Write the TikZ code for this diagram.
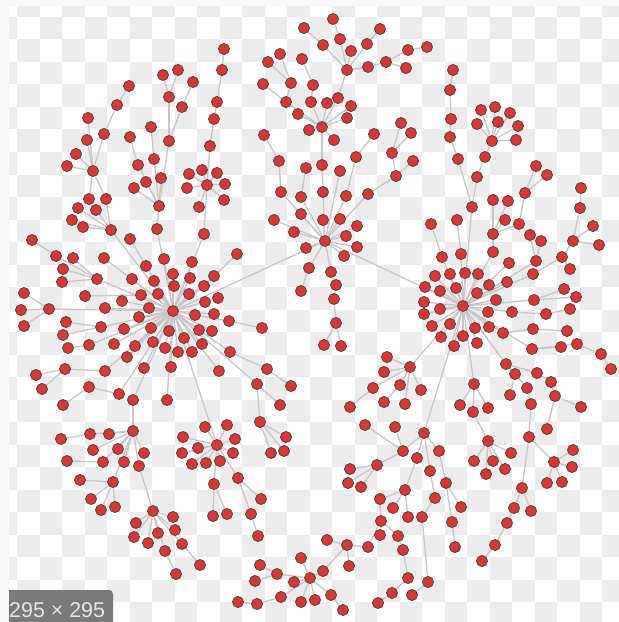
\documentclass[tikz,border=0pt]{standalone}
\usepackage{fontspec}
\setmainfont{Liberation Sans}
\usetikzlibrary{backgrounds}
\definecolor{stripbg}{HTML}{F6F8FA}
\definecolor{checkgray}{HTML}{ECECEC}
\definecolor{dotred}{HTML}{E3332F}
\definecolor{dotline}{HTML}{5A4646}
\definecolor{edgegray}{HTML}{C6C6C6}
\definecolor{labelbg}{HTML}{737373}
\definecolor{labeltext}{HTML}{E6E6E6}
\tikzset{
  dot/.style={circle,fill=dotred,draw=dotline,line width=0.9bp,minimum size=11bp,inner sep=0pt},
  edge/.style={draw=edgegray,line width=1.3bp},
}
\def\graphdata{173/311/325/241,325/241/325/241,463/306/325/241,
129/86/117/105,117/105/104/134,104/134/93/171,93/171/106/199,88/118/93/171,76/154/93/171,67/166/93/171,87/140/93/171,89/199/93/171,106/199/111/230,111/230/173/311,78/208/111/230,96/210/111/230,72/220/111/230,83/227/111/230,
163/75/169/97,178/70/169/97,169/97/169/141,193/82/182/107,182/107/169/141,169/141/159/206,151/127/154/159,130/137/138/165,154/159/159/206,138/165/159/206,161/178/159/206,134/188/159/206,146/182/159/206,159/206/157/229,157/229/173/311,
207/185/204/234,189/174/207/185,202/170/207/185,217/173/207/185,187/188/207/185,225/184/207/185,224/200/207/185,199/207/207/185,224/49/222/70,222/70/217/102,217/102/214/119,214/119/210/146,210/146/207/185,204/234/173/311,
130/239/173/311,32/240/56/256,56/256/97/279,73/258/97/279,97/279/173/311,104/258/173/311,63/269/97/279,62/282/97/279,146/266/173/311,164/259/173/311,192/262/173/311,173/274/173/311,190/278/173/311,132/279/173/311,154/281/173/311,174/286/173/311,204/286/173/311,
24/293/49/309,21/310/49/309,24/326/49/309,49/309/173/311,85/296/141/295,141/295/173/311,158/294/173/311,189/294/173/311,205/302/173/311,105/308/173/311,122/301/173/311,149/308/173/311,195/315/173/311,139/317/173/311,
66/322/101/327,63/335/101/327,101/327/173/311,124/329/173/311,151/328/173/311,169/331/173/311,199/330/173/311,68/348/89/345,89/345/173/311,114/344/173/311,135/346/173/311,153/342/173/311,165/348/173/311,178/352/173/311,184/338/173/311,192/352/173/311,202/344/173/311,
127/357/173/311,144/368/173/311,171/367/173/311,65/369/105/371,36/375/65/369,42/389/65/369,105/371/173/311,89/387/119/394,119/394/173/311,133/400/173/311,167/400/173/311,63/405/89/387,
214/276/173/311,218/298/173/311,214/314/173/311,229/321/173/311,262/328/229/321,212/331/173/311,230/352/173/311,267/369/230/352,291/386/267/369,257/384/173/311,280/405/257/384,219/371/173/311,237/254/214/276,
133/431/133/400,90/434/133/431,61/439/90/434,109/434/133/431,93/450/133/431,118/449/133/431,144/453/133/431,103/462/133/431,67/461/103/462,124/462/133/431,139/466/133/431,113/482/133/431,80/480/113/482,91/499/113/482,101/510/113/482,115/507/113/482,
153/511/139/466,173/517/153/511,136/523/153/511,158/533/153/511,175/530/153/511,134/537/153/511,148/543/153/511,182/544/153/511,165/551/153/511,200/565/182/544,176/574/165/551,
217/445/173/311,183/437/217/445,205/427/217/445,198/448/217/445,182/453/217/445,192/464/217/445,206/463/217/445,227/425/217/445,235/439/217/445,233/453/217/445,220/461/217/445,238/478/217/445,261/499/238/478,251/514/238/478,258/536/251/514,214/484/217/445,213/516/214/484,227/514/214/484,
260/422/257/384,286/437/260/422,271/453/260/422,284/451/260/422,
310/578/323/571,323/571/347/545,347/545/368/547,368/547/381/521,381/521/380/499,380/499/405/490,405/490/417/458,327/540/347/545,349/566/347/545,393/508/405/490,408/517/405/490,380/535/381/521,398/536/381/521,403/550/398/536,
277/574/310/578,260/565/277/574,255/581/277/574,294/582/310/578,281/597/310/578,257/604/281/597,238/602/257/604,301/602/310/578,315/600/310/578,331/595/310/578,343/610/331/595,301/558/310/578,
408/578/403/550,392/593/408/578,378/603/392/593,428/582/422/517,412/595/428/582,422/517/435/498,
403/451/424/433,395/427/403/451,365/425/403/451,377/465/403/451,350/469/377/465,348/483/377/465,361/487/377/465,
410/367/463/306,387/357/410/367,384/372/410/367,400/385/410/367,373/388/410/367,384/402/400/385,405/404/410/367,350/407/373/388,421/390/410/367,
424/433/463/306,439/451/424/433,417/458/424/433,430/471/424/433,446/483/439/451,435/498/430/471,461/507/446/483,452/522/446/483,455/547/452/522,
474/384/463/306,460/405/474/384,488/408/474/384,473/412/474/384,488/441/473/412,474/461/488/441,493/461/488/441,511/453/488/441,505/469/488/441,486/474/488/441,
506/364/463/306,515/374/506/364,537/373/506/364,551/382/537/373,555/396/551/382,527/388/515/374,510/395/515/374,531/404/527/388,581/407/555/396,529/437/531/404,547/429/555/396,522/488/529/437,514/508/522/488,531/511/522/488,507/523/514/508,495/545/507/523,482/561/495/545,554/462/529/437,573/450/554/462,572/467/554/462,547/483/554/462,562/482/554/462,
442/257/463/306,431/224/442/257,461/254/463/306,457/220/461/254,435/276/463/306,450/274/463/306,465/273/463/306,478/274/463/306,425/287/463/306,440/291/463/306,456/288/463/306,489/285/463/306,477/293/463/306,424/302/463/306,440/309/463/306,496/300/463/306,424/314/463/306,488/312/463/306,432/326/463/306,450/324/463/306,475/328/463/306,489/327/463/306,441/337/463/306,463/336/463/306,454/346/463/306,477/343/463/306,503/333/463/306,512/312/463/306,507/282/463/306,
546/314/512/312,570/309/546/314,533/329/503/333,567/331/533/329,532/349/463/306,561/347/532/349,577/344/532/349,601/354/577/344,611/369/601/354,534/300/463/306,564/289/534/300,576/297/534/300,533/274/463/306,562/257/533/274,570/269/562/257,573/241/562/257,593/226/573/241,599/245/573/241,580/208/573/241,581/188/580/208,
509/263/463/306,536/261/463/306,530/235/536/261,541/241/536/261,493/252/463/306,493/234/493/252,505/220/493/234,519/224/493/234,493/200/493/234,508/201/493/234,525/193/519/224,536/166/525/193,547/175/525/193,
472/207/463/306,458/159/472/207,450/137/458/159,451/119/450/137,450/90/451/119,453/70/450/90,477/177/472/207,485/157/477/177,492/141/485/157,481/110/492/141,495/107/492/141,510/113/492/141,477/124/492/141,498/122/492/141,518/126/492/141,516/140/492/141,
274/220/325/241,301/214/325/241,323/220/325/241,340/219/325/241,357/226/325/241,294/232/325/241,346/236/325/241,306/248/325/241,357/247/325/241,344/256/325/241,309/268/325/241,331/272/325/241,336/285/331/272,334/299/336/285,336/323/334/299,324/345/336/323,341/346/336/323,301/291/309/268,
368/194/325/241,396/176/368/194,392/153/396/176,401/123/392/153,411/133/392/153,413/161/396/176,346/196/325/241,356/157/346/196,374/134/356/157,340/171/325/241,323/192/325/241,322/165/323/192,322/127/322/165,334/140/322/127,301/197/325/241,306/168/301/197,281/192/325/241,279/161/281/192,264/135/279/161,
286/102/322/127,311/102/322/127,327/103/322/127,338/98/322/127,351/106/322/127,347/118/322/127,298/114/322/127,309/130/322/127,263/84/286/102,291/83/286/102,313/85/311/102,280/54/291/83,268/62/291/83,302/59/313/85,
347/70/338/98,340/39/347/70,351/51/347/70,367/44/347/70,323/45/347/70,304/28/323/45,333/19/340/39,368/67/347/70,386/62/368/67,408/50/386/62,406/68/386/62,427/47/408/50,380/29/367/44}
\begin{document}
\begin{tikzpicture}[x=1bp,y=-1bp]
\useasboundingbox (0,0) rectangle (619,622);
\begin{pgfonlayer}{background}
  \fill[stripbg] (0,0) rectangle (619,622);
  \fill[white] (9,7) rectangle (619,622);
  \begin{scope}
    \clip (9,7) rectangle (619,622);
    \foreach \i in {-1,...,26}{
      \foreach \j in {-1,...,26}{
        \pgfmathtruncatemacro\kk{\i+\j+2}
        \ifodd\kk
          \fill[checkgray] ({17+22.5*\i},{17+22.5*\j}) rectangle ++(22.5,22.5);
        \fi
      }
    }
  \end{scope}
\end{pgfonlayer}
\foreach \x/\y/\px/\py in \graphdata {
  \node[dot] (n\x x\y) at (\x,\y) {};
}
\begin{pgfonlayer}{background}
  \foreach \x/\y/\px/\py in \graphdata {
    \draw[edge] (n\px x\py) -- (n\x x\y);
  }
\end{pgfonlayer}
\fill[labelbg,opacity=0.95] (9,622) -- (9,590) [rounded corners=4bp]-- (113,590) [sharp corners]-- (113,622) -- cycle;
\begin{scope}
  \clip (9,590) rectangle (113,622);
  \node[anchor=base west,inner sep=0pt,text=labeltext,font=\fontsize{21.5}{24}\selectfont] (lbl) at (9,617.5) {295 × 295};
\end{scope}
\end{tikzpicture}
\end{document}
